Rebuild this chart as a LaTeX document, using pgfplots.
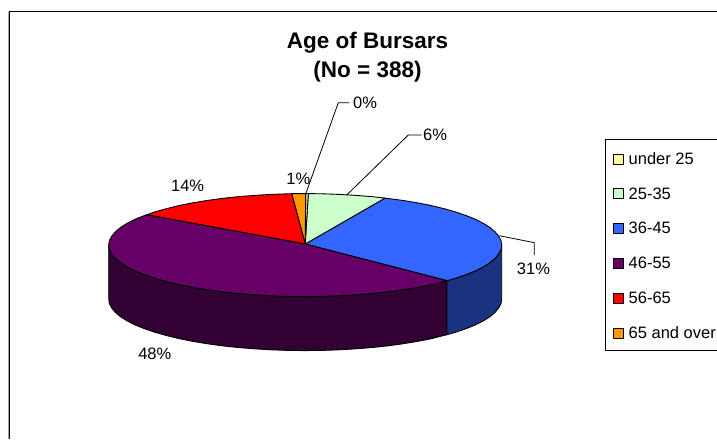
\documentclass[border=0pt]{standalone}
\usepackage{pgfplots}
\pgfplotsset{compat=1.18}
\usepackage{fontspec}
\setmainfont{Liberation Sans}
\definecolor{cyel}{HTML}{FFFF99}
\definecolor{cgrn}{HTML}{CCFFCC}
\definecolor{cblu}{HTML}{3366FF}
\definecolor{cpur}{HTML}{660066}
\definecolor{cred}{HTML}{FF0000}
\definecolor{cora}{HTML}{FF9900}
\definecolor{cpurd}{HTML}{330033}
\definecolor{cblud}{HTML}{193380}
\newcommand{\lab}{\fontsize{16.5}{19}\selectfont}
\begin{document}
\begin{tikzpicture}
\path[use as bounding box] (0,0) rectangle (717pt,439pt);
\begin{axis}[
  scale only axis, width=717pt, height=439pt,
  xmin=0, xmax=717, ymin=0, ymax=439, y dir=reverse,
  hide axis, clip=true,
  every axis plot/.append style={line width=0.9pt, line join=round},
]
% chart frame
\addplot[draw=gray!70, line width=1pt, forget plot] coordinates {(8.3,439) (8.3,11.5)};
\addplot[draw=black, line width=1pt, forget plot] coordinates {(9.5,439) (9.5,11.5) (717,11.5)};
% side walls
\addplot[fill=cpurd, draw=black] coordinates {
(108.7,245.1)(109.4,249.6)(111.7,254.0)(115.4,258.4)(120.5,262.7)(127.1,266.9)(135.0,270.9)(144.2,274.6)(154.7,278.2)(166.3,281.5)(178.9,284.6)(192.5,287.3)(206.9,289.7)(222.2,291.8)(238.0,293.5)(254.3,294.8)(271.1,295.8)(288.1,296.4)(305.2,296.6)(322.3,296.4)(339.3,295.8)(356.1,294.8)(372.4,293.5)(388.2,291.8)(403.5,289.7)(417.9,287.3)(431.5,284.6)(447,280.7)
(447,334.7)(431.5,338.6)(417.9,341.3)(403.5,343.7)(388.2,345.8)(372.4,347.5)(356.1,348.8)(339.3,349.8)(322.3,350.4)(305.2,350.6)(288.1,350.4)(271.1,349.8)(254.3,348.8)(238.0,347.5)(222.2,345.8)(206.9,343.7)(192.5,341.3)(178.9,338.6)(166.3,335.5)(154.7,332.2)(144.2,328.6)(135.0,324.9)(127.1,320.9)(120.5,316.7)(115.4,312.4)(111.7,308.0)(109.4,303.6)(108.7,299.1)
} -- cycle;
\addplot[fill=cblud, draw=black] coordinates {
(447,280.7)(455.7,278.2)(466.2,274.6)(475.4,270.9)(483.3,266.9)(489.9,262.7)(495.0,258.4)(498.7,254.0)(501.0,249.6)(501.7,245.1)
(501.7,299.1)(501.0,303.6)(498.7,308.0)(495.0,312.4)(489.9,316.7)(483.3,320.9)(475.4,324.9)(466.2,328.6)(455.7,332.2)(447,334.7)
} -- cycle;
% top slices
\addplot[fill=cblu, draw=black] coordinates {
(305.2,244)(447,280.7)(455.7,278.2)(466.2,274.6)(475.4,270.9)(483.3,266.9)(489.9,262.7)(495.0,258.4)(498.7,254.0)(501.0,249.6)(501.7,245.1)(501.0,240.6)(498.7,236.2)(495.0,231.8)(489.9,227.5)(483.3,223.3)(475.4,219.3)(466.2,215.6)(455.7,212.0)(444.1,208.7)(431.5,205.6)(417.9,202.9)(403.5,200.5)(385,198.1)
} -- cycle;
\addplot[fill=cgrn, draw=black] coordinates {
(305.2,244)(385,198.1)(372.4,196.7)(356.1,195.4)(339.3,194.4)(322.3,193.8)(308.3,193.6)
} -- cycle;
\addplot[fill=cyel, draw=black] coordinates {(305.2,244)(308.3,193.6)(305.7,193.6)} -- cycle;
\addplot[fill=cora, draw=black] coordinates {(305.2,244)(305.7,193.6)(291.7,193.7)} -- cycle;
\addplot[fill=cred, draw=black] coordinates {
(305.2,244)(291.7,193.7)(288.1,193.8)(271.1,194.4)(254.3,195.4)(238.0,196.7)(222.2,198.4)(206.9,200.5)(192.5,202.9)(178.9,205.6)(166.3,208.7)(154.7,212.0)(146.7,214.8)
} -- cycle;
\addplot[fill=cpur, draw=black] coordinates {
(305.2,244)(146.7,214.8)(144.2,215.6)(135.0,219.3)(127.1,223.3)(120.5,227.5)(115.4,231.8)(111.7,236.2)(109.4,240.6)(108.7,245.1)(109.4,249.6)(111.7,254.0)(115.4,258.4)(120.5,262.7)(127.1,266.9)(135.0,270.9)(144.2,274.6)(154.7,278.2)(166.3,281.5)(178.9,284.6)(192.5,287.3)(206.9,289.7)(222.2,291.8)(238.0,293.5)(254.3,294.8)(271.1,295.8)(288.1,296.4)(305.2,296.6)(322.3,296.4)(339.3,295.8)(356.1,294.8)(372.4,293.5)(388.2,291.8)(403.5,289.7)(417.9,287.3)(431.5,284.6)(447,280.7)
} -- cycle;
% leader lines
\addplot[draw=black, line width=0.8pt] coordinates {(305.7,194)(338.3,102.7)(349.3,102.7)};
\addplot[draw=black, line width=0.8pt] coordinates {(346.7,195)(408.3,135)(421.7,135)};
\addplot[draw=black, line width=0.8pt] coordinates {(499.3,235.7)(534.3,242.7)(534.3,255)};
% legend
\addplot[draw=black, line width=1pt] coordinates {(717,139.5)(605.5,139.5)(605.5,350.7)(717,350.7)};
\addplot[fill=cyel, draw=black] coordinates {(613.5,154)(623.5,154)(623.5,164)(613.5,164)} -- cycle;
\addplot[fill=cgrn, draw=black] coordinates {(613.5,188.5)(623.5,188.5)(623.5,198.5)(613.5,198.5)} -- cycle;
\addplot[fill=cblu, draw=black] coordinates {(613.5,223)(623.5,223)(623.5,233)(613.5,233)} -- cycle;
\addplot[fill=cpur, draw=black] coordinates {(613.5,258)(623.5,258)(623.5,268)(613.5,268)} -- cycle;
\addplot[fill=cred, draw=black] coordinates {(613.5,293)(623.5,293)(623.5,303)(613.5,303)} -- cycle;
\addplot[fill=cora, draw=black] coordinates {(613.5,328)(623.5,328)(623.5,338)(613.5,338)} -- cycle;
\node[anchor=west, inner sep=0pt, font=\lab] at (axis cs:628.5,159) {under 25};
\node[anchor=west, inner sep=0pt, font=\lab] at (axis cs:628.5,193.5) {25-35};
\node[anchor=west, inner sep=0pt, font=\lab] at (axis cs:628.5,228) {36-45};
\node[anchor=west, inner sep=0pt, font=\lab] at (axis cs:628.5,263) {46-55};
\node[anchor=west, inner sep=0pt, font=\lab] at (axis cs:628.5,298) {56-65};
\node[anchor=west, inner sep=0pt, font=\lab] at (axis cs:628.5,333) {65 and over};
% title
\node[font=\fontsize{22.5}{27}\selectfont\bfseries, inner sep=0pt, anchor=base] at (axis cs:367.5,48.3) {Age of Bursars};
\node[font=\fontsize{22.5}{27}\selectfont\bfseries, inner sep=0pt, anchor=base] at (axis cs:367.5,77.3) {(No = 388)};
% data labels
\node[font=\lab, anchor=west, inner sep=0pt] at (axis cs:353,103.3) {0\%};
\node[font=\lab, anchor=west, inner sep=0pt] at (axis cs:423,135) {6\%};
\node[font=\lab, inner sep=0pt] at (axis cs:533.5,269) {31\%};
\node[font=\lab, inner sep=0pt] at (axis cs:154.8,354) {48\%};
\node[font=\lab, inner sep=0pt] at (axis cs:187.6,185.5) {14\%};
\node[font=\lab, inner sep=0pt] at (axis cs:298.3,179) {1\%};
\end{axis}
\end{tikzpicture}
\end{document}
